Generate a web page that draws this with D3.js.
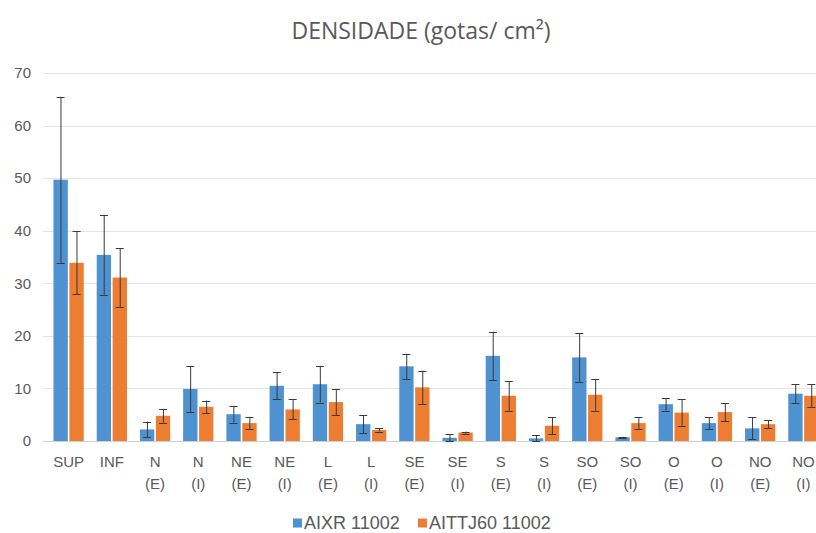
<!DOCTYPE html>
<html>
<head>
<meta charset="utf-8">
<script src="https://cdn.jsdelivr.net/npm/d3@7"></script>
<style>
  body { margin: 0; background: #fff; }
  text { font-family: "Liberation Sans", Arial, sans-serif; fill: #595959; }
</style>
</head>
<body>
<div id="chart"></div>
<script>
var svgWidth = 816;
var svgHeight = 533;

// categories, two lines each
var categories = ["SUP", "INF", "N (E)", "N (I)", "NE (E)", "NE (I)", "L (E)", "L (I)",
  "SE (E)", "SE (I)", "S (E)", "S (I)", "SO (E)", "SO (I)", "O (E)", "O (I)", "NO (E)", "NO (I)"];

var seriesNames = ["AIXR 11002", "AITTJ60 11002"];
var colors = ["#4e92d1", "#ed7d31"];

// densidade means
var aixr   = [49.7, 35.4, 2.2, 9.9, 5.1, 10.5, 10.8, 3.2, 14.2, 0.6, 16.2, 0.5, 15.9, 0.7, 7.0, 3.4, 2.4, 9.0];
var aittj  = [33.9, 31.1, 4.8, 6.5, 3.4, 6.0, 7.4, 2.1, 10.2, 1.6, 8.6, 2.9, 8.8, 3.4, 5.4, 5.5, 3.2, 8.6];
// error (+/-)
var aixrErr  = [15.8, 7.6, 1.5, 4.4, 1.6, 2.6, 3.5, 1.7, 2.4, 0.7, 4.6, 0.6, 4.6, 0.1, 1.2, 1.1, 2.1, 1.8];
var aittjErr = [6.0, 5.6, 1.3, 1.2, 1.2, 1.9, 2.5, 0.3, 3.2, 0.2, 2.8, 1.6, 3.0, 1.1, 2.5, 1.7, 0.8, 2.2];

var yTicks = [0, 10, 20, 30, 40, 50, 60, 70];

var margin = { top: 73, left: 47 };
var plotRight = 825;
var plotBottom = 441;

var svg = d3.select("#chart").append("svg")
  .attr("width", svgWidth)
  .attr("height", svgHeight);

var x0 = d3.scaleBand()
  .domain(categories)
  .range([margin.left, plotRight])
  .paddingInner(0.3)
  .paddingOuter(0.15);

var x1 = d3.scaleBand()
  .domain(seriesNames)
  .range([0, x0.bandwidth()])
  .paddingInner(0.1);

var y = d3.scaleLinear()
  .domain([0, 70])
  .range([plotBottom, margin.top]);

// gridlines
svg.append("g")
  .selectAll("line")
  .data(yTicks)
  .enter()
  .append("line")
  .attr("x1", margin.left - 4)
  .attr("x2", svgWidth)
  .attr("y1", d => Math.round(y(d)) + 0.5)
  .attr("y2", d => Math.round(y(d)) + 0.5)
  .attr("stroke", d => d === 0 ? "#d0d0d0" : "#e4e4e4")
  .attr("stroke-width", 1);

// y tick labels
svg.append("g")
  .selectAll("text")
  .data(yTicks)
  .enter()
  .append("text")
  .attr("x", 31)
  .attr("y", d => y(d))
  .attr("dy", "0.35em")
  .attr("text-anchor", "end")
  .style("font-size", "15px")
  .text(d => d);

var rows = categories.map(function(c, i) {
  return {
    cat: c,
    vals: [
      { s: seriesNames[0], v: aixr[i], e: aixrErr[i], color: colors[0] },
      { s: seriesNames[1], v: aittj[i], e: aittjErr[i], color: colors[1] }
    ]
  };
});

var groups = svg.append("g")
  .selectAll("g")
  .data(rows)
  .enter()
  .append("g")
  .attr("transform", d => `translate(${x0(d.cat)},0)`);

groups.selectAll("rect")
  .data(d => d.vals)
  .enter()
  .append("rect")
  .attr("x", d => x1(d.s))
  .attr("y", d => y(d.v))
  .attr("width", x1.bandwidth())
  .attr("height", d => plotBottom - y(d.v))
  .attr("fill", d => d.color);

// error bars
var errs = groups.selectAll("g.err")
  .data(d => d.vals)
  .enter()
  .append("g")
  .attr("class", "err")
  .attr("stroke", "#3a3a3a")
  .attr("stroke-width", 1);

errs.append("line")
  .attr("x1", d => Math.round(x1(d.s) + x1.bandwidth() / 2) + 0.5)
  .attr("x2", d => Math.round(x1(d.s) + x1.bandwidth() / 2) + 0.5)
  .attr("y1", d => y(d.v + d.e))
  .attr("y2", d => y(Math.max(0, d.v - d.e)));

errs.append("line")
  .attr("x1", d => x1(d.s) + x1.bandwidth() / 2 - 4)
  .attr("x2", d => x1(d.s) + x1.bandwidth() / 2 + 4)
  .attr("y1", d => Math.round(y(d.v + d.e)) + 0.5)
  .attr("y2", d => Math.round(y(d.v + d.e)) + 0.5);

errs.append("line")
  .attr("x1", d => x1(d.s) + x1.bandwidth() / 2 - 4)
  .attr("x2", d => x1(d.s) + x1.bandwidth() / 2 + 4)
  .attr("y1", d => Math.round(y(Math.max(0, d.v - d.e))) + 0.5)
  .attr("y2", d => Math.round(y(Math.max(0, d.v - d.e))) + 0.5);

// category labels
var catLabels = svg.append("g")
  .selectAll("text")
  .data(categories)
  .enter()
  .append("text")
  .attr("x", d => x0(d) + x0.bandwidth() / 2)
  .attr("y", 467)
  .attr("text-anchor", "middle")
  .style("font-size", "15px");

catLabels.each(function(d) {
  var parts = d.split(" ");
  var t = d3.select(this);
  parts.forEach(function(p, i) {
    t.append("tspan")
      .attr("x", t.attr("x"))
      .attr("dy", i === 0 ? 0 : 22)
      .text(p);
  });
});

// title
svg.append("text")
  .attr("x", 421)
  .attr("y", 39)
  .attr("text-anchor", "middle")
  .style("font-family", "'Open Sans', sans-serif")
  .style("font-size", "23px")
  .text("DENSIDADE (gotas/ cm²)");

// legend
var legendX = [293, 418];
var legend = svg.append("g")
  .selectAll("g")
  .data(seriesNames)
  .enter()
  .append("g")
  .attr("transform", (d, i) => `translate(${legendX[i]}, 523)`);

legend.append("rect")
  .attr("x", 0)
  .attr("y", -4.5)
  .attr("width", 9)
  .attr("height", 9)
  .attr("fill", (d, i) => colors[i]);

legend.append("text")
  .attr("x", 11)
  .attr("y", 0)
  .attr("dy", "0.35em")
  .style("font-size", "18px")
  .text(d => d);
</script>
</body>
</html>
